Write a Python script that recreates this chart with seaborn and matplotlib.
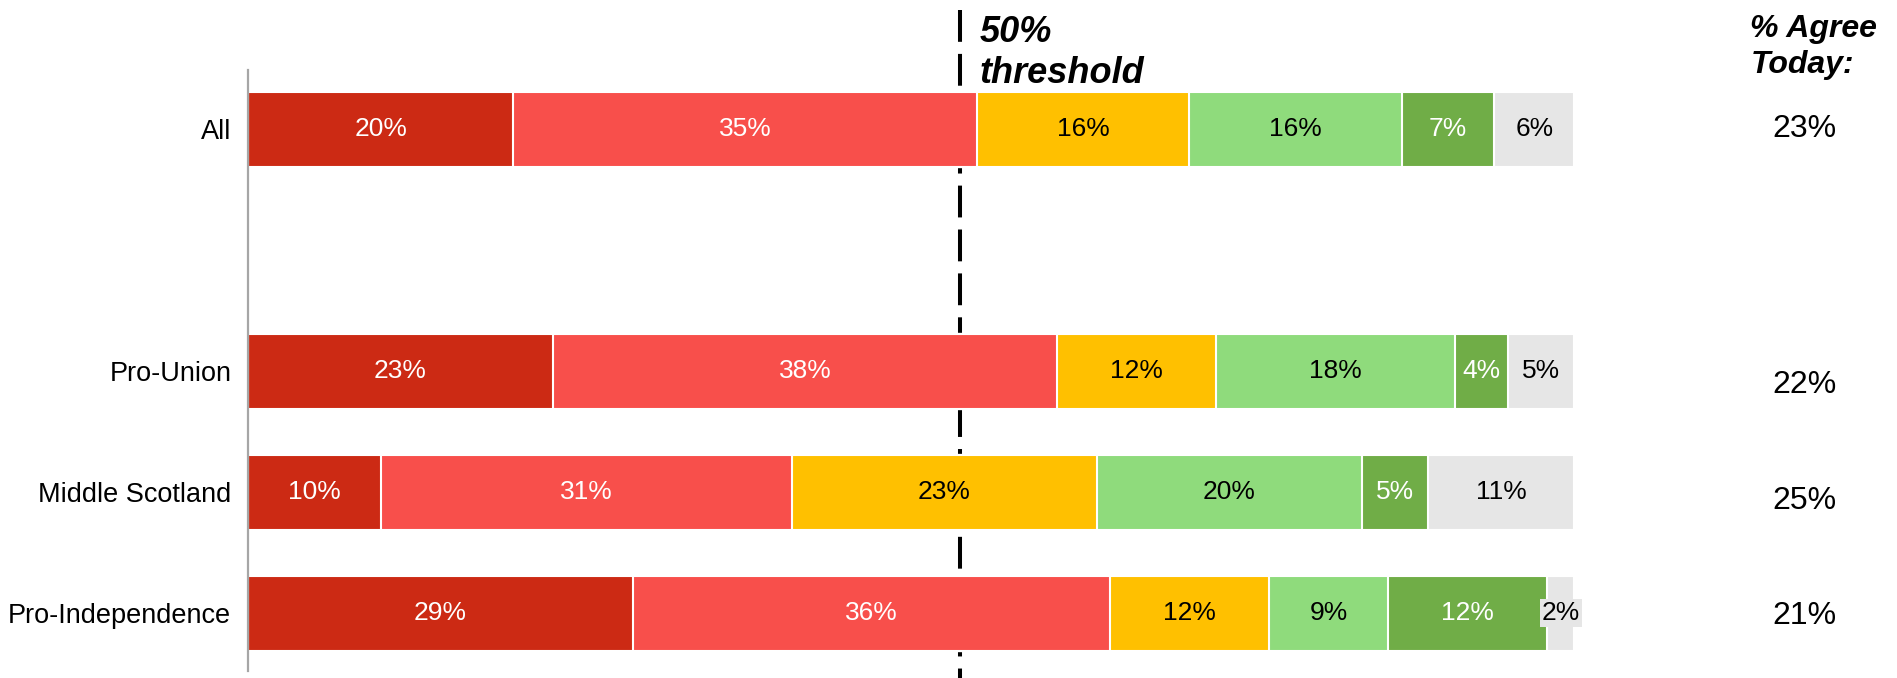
import numpy as np
import pandas as pd
import matplotlib
matplotlib.use("Agg")
import matplotlib.pyplot as plt
import seaborn as sns

# ---------------- data ----------------
groups = ["All", "Pro-Union", "Middle Scotland", "Pro-Independence"]
strongly_disagree = [20, 23, 10, 29]
disagree = [35, 38, 31, 36]
neither = [16, 12, 23, 12]
agree = [16, 18, 20, 9]
strongly_agree = [7, 4, 5, 12]
dont_know = [6, 5, 11, 2]
agree_today = [23, 22, 25, 21]
threshold_label = ["50%", "threshold"]
threshold_pos = 53.7

series_names = ["Strongly disagree", "Disagree", "Neither", "Agree", "Strongly agree", "Don't know"]
series_values = [strongly_disagree, disagree, neither, agree, strongly_agree, dont_know]
series_colors = ["#CC2A14", "#F84F4B", "#FFC000", "#8FDB7C", "#70AD47", "#E6E6E6"]
text_colors = ["white", "white", "black", "black", "white", "black"]

order = ["All", " ", "Pro-Union", "Middle Scotland", "Pro-Independence"]
ypos = {g: order.index(g) for g in groups}

# ---------------- figure ----------------
sns.set_theme(style="white")
plt.rcParams["font.family"] = ["Liberation Sans", "DejaVu Sans"]
plt.rcParams["text.color"] = "black"
plt.rcParams["ytick.color"] = "black"

W, H = 1897, 678
fig = plt.figure(figsize=(W / 100, H / 100), dpi=100)
ax_left, ax_right = 248 / W, 1574 / W
ax_top, ax_bottom = 70 / H, 671 / H
ax = fig.add_axes([ax_left, 1 - ax_bottom, ax_right - ax_left, ax_bottom - ax_top])

df = pd.DataFrame({"group": groups})
cums = np.cumsum(np.array(series_values), axis=0)
for i in range(len(series_names)):
    df[series_names[i]] = cums[i]

# dashed threshold line (behind bars)
ax.plot([threshold_pos, threshold_pos], [-0.983, 4.54], color="black", lw=2.9,
        dashes=(7.9, 3.0), clip_on=False, zorder=0.5, solid_capstyle="butt",
        dash_capstyle="butt")

# stacked bars: draw cumulative layers from the longest to the shortest
for i in reversed(range(len(series_names))):
    sns.barplot(data=df, y="group", x=series_names[i], order=order, orient="h",
                color=series_colors[i], saturation=1, width=0.62,
                edgecolor="white", linewidth=1.5, ax=ax, zorder=2)

# segment labels
for i, vals in enumerate(series_values):
    for g, v, c in zip(groups, vals, cums[i]):
        kw = {}
        if series_names[i] == "Don't know":
            kw["bbox"] = dict(facecolor=series_colors[i], edgecolor="none", pad=1.5)
        ax.text(c - v / 2, ypos[g], f"{v}%", ha="center", va="center",
                fontsize=19, color=text_colors[i], zorder=5, **kw)

# right column
ax.text(113.3, -0.760, "% Agree", fontsize=23, fontweight="bold", fontstyle="italic",
        ha="left", va="baseline", clip_on=False)
ax.text(113.3, -0.463, "Today:", fontsize=23, fontweight="bold", fontstyle="italic",
        ha="left", va="baseline", clip_on=False)
for g, v, yb in zip(groups, agree_today, [0.066, 2.18, 3.14, 4.09]):
    ax.text(117.4, yb, f"{v}%", fontsize=23, ha="center", va="baseline", clip_on=False)

# threshold text
ax.text(55.2, -0.719, threshold_label[0], fontsize=26, fontweight="bold",
        fontstyle="italic", ha="left", va="baseline", clip_on=False)
ax.text(55.2, -0.380, threshold_label[1], fontsize=26, fontweight="bold",
        fontstyle="italic", ha="left", va="baseline", clip_on=False)

ax.set_xlim(0, 100)
ax.set_ylim(4.479, -0.488)
ax.set_xlabel("")
ax.set_ylabel("")
ax.set_xticks([])
ax.tick_params(axis="y", length=0, pad=12, labelsize=19.5, labelcolor="black")
for s in ["top", "right", "bottom"]:
    ax.spines[s].set_visible(False)
ax.spines["left"].set_color("#A6A6A6")
ax.spines["left"].set_linewidth(1.6)
ax.spines["left"].set_zorder(6)

fig.savefig("out.png", dpi=100)
